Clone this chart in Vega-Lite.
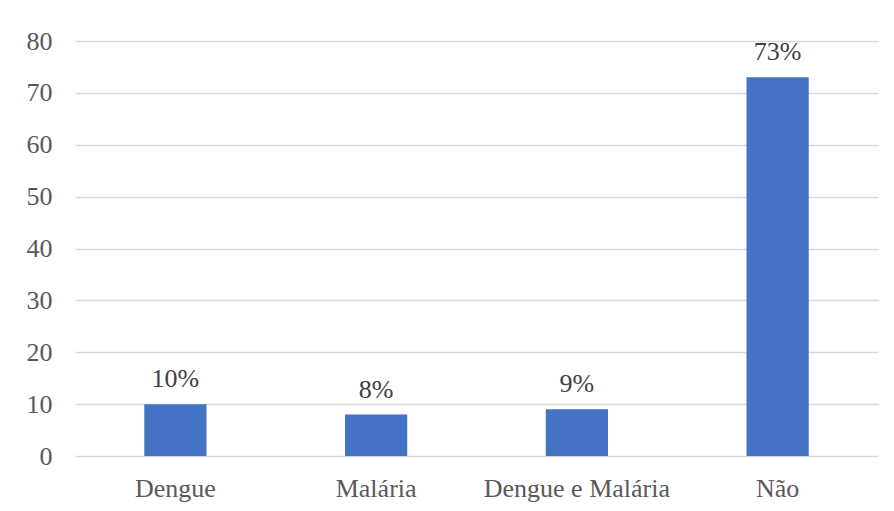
{
  "$schema": "https://vega.github.io/schema/vega-lite/v6.json",
  "width": 803,
  "height": 415,
  "autosize": {"type": "none"},
  "padding": {"left": 75, "top": 41, "right": 16, "bottom": 55},
  "background": "#ffffff",
  "config": {
    "view": {"stroke": null},
    "font": "Times New Roman, Liberation Serif, serif"
  },
  "data": {
    "values": [
      {"categoria": "Dengue", "valor": 10, "rotulo": "10%"},
      {"categoria": "Malária", "valor": 8, "rotulo": "8%"},
      {"categoria": "Dengue e Malária", "valor": 9, "rotulo": "9%"},
      {"categoria": "Não", "valor": 73, "rotulo": "73%"}
    ]
  },
  "encoding": {
    "x": {
      "field": "categoria",
      "type": "nominal",
      "sort": null,
      "scale": {"paddingInner": 0.69, "paddingOuter": 0.345},
      "axis": {
        "title": null,
        "labelAngle": 0,
        "labelFont": "Times New Roman, Liberation Serif, serif",
        "labelFontSize": 26,
        "labelColor": "#595959",
        "labelPadding": 19,
        "labelLimit": 0,
        "labelOverlap": false,
        "ticks": false,
        "domain": false
      }
    },
    "y": {
      "field": "valor",
      "type": "quantitative",
      "scale": {"domain": [0, 80]},
      "axis": {
        "title": null,
        "values": [0, 10, 20, 30, 40, 50, 60, 70, 80],
        "labelFont": "Times New Roman, Liberation Serif, serif",
        "labelFontSize": 26,
        "labelColor": "#595959",
        "labelPadding": 23,
        "ticks": false,
        "domain": false,
        "grid": true,
        "gridColor": "#D9D9D9",
        "gridWidth": 1.3
      }
    }
  },
  "layer": [
    {"mark": {"type": "bar", "color": "#4472C4"}},
    {
      "mark": {
        "type": "text",
        "baseline": "alphabetic",
        "dy": -17,
        "font": "Times New Roman, Liberation Serif, serif",
        "fontSize": 26,
        "color": "#404040"
      },
      "encoding": {"text": {"field": "rotulo"}}
    }
  ]
}
